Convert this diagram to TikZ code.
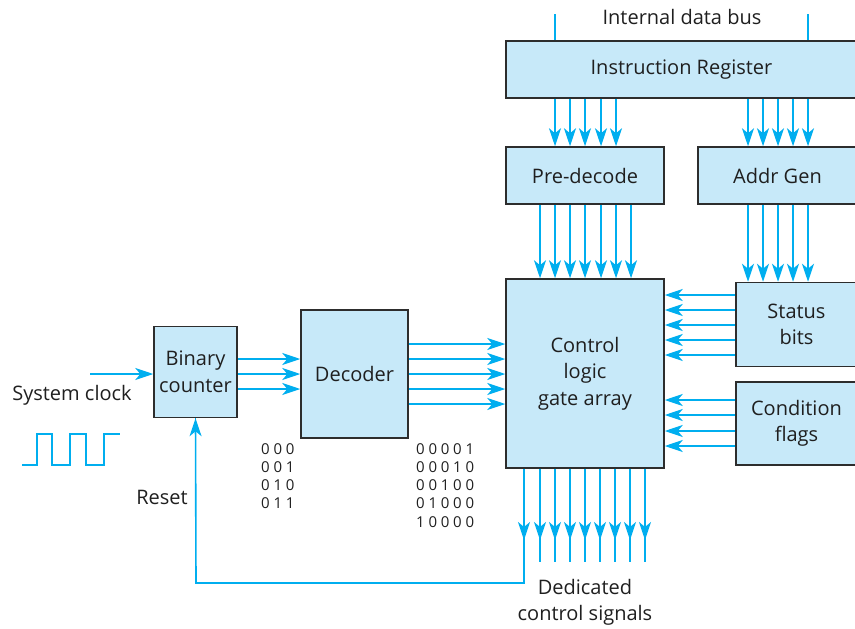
\documentclass[tikz,border=0pt]{standalone}
\usepackage{fontspec}
\setmainfont{Open Sans}
\usetikzlibrary{arrows.meta,positioning}
\definecolor{busblue}{RGB}{0,174,239}
\definecolor{blkfill}{RGB}{199,233,249}
\definecolor{blkline}{RGB}{45,45,45}
\tikzset{
  blk/.style={draw=blkline, fill=blkfill, line width=1.5pt, align=center, inner sep=2pt, text=black!88, font=\fontsize{20}{26.5}\selectfont},
  bus/.style={draw=busblue, line width=1.6pt},
  arr/.style={bus, -{Stealth[length=18pt, width=12pt, inset=5pt]}},
  lbl/.style={align=center, text=black!88, font=\fontsize{20}{26}\selectfont},
  bits/.style={align=left, text=black!88, inner sep=0pt, font=\fontsize{15}{18.3}\selectfont\addfontfeature{LetterSpace=25}},
}
\begin{document}
\begin{tikzpicture}[x=1pt, y=-1pt]
\useasboundingbox (0,0) rectangle (855,629);
% blocks
\node[blk, minimum width=351, minimum height=57] (ir) at (681.5,69.5) {Instruction Register};
\node[blk, minimum width=158, minimum height=57] (pre) at (585,175.5) {Pre-decode};
\node[blk, minimum width=159, minimum height=57] (addr) at (777.5,175.5) {Addr Gen};
\node[blk, minimum width=158, minimum height=189] (ctl) at (585,373.5) {Control\\logic\\gate array};
\node[blk, minimum width=121, minimum height=84] (stat) at (796.5,324.5) {Status\\bits};
\node[blk, minimum width=121, minimum height=83] (cond) at (796.5,423.5) {Condition\\flags};
\node[blk, minimum width=107, minimum height=128] (dec) at (354.5,374) {Decoder};
\node[blk, minimum width=83, minimum height=91] (cnt) at (195.5,372) {Binary\\counter};
% labels
\node[lbl] (bus) at (682,17) {Internal data bus};
\node[lbl] (sysclk) at (72,395) {System clock};
\node[lbl] (rst) at (162,497) {Reset};
\node[lbl] (sig) at (585,602) {Dedicated\\control signals};
\node[bits, anchor=north west] (cntbits) at (261,443) {000\\001\\010\\011};
\node[bits, anchor=north west] (decbits) at (416,443) {00001\\00010\\00100\\01000\\10000};
% data bus into IR
\coordinate (busL) at (555,14);
\coordinate (busR) at (808,14);
\draw[bus] (busL) -- (ir.north -| busL);
\draw[bus] (busR) -- (ir.north -| busR);
% buses
\foreach \x in {555,570,585,601,616}
  \draw[arr] (ir.south -| \x,0) -- (pre.north -| \x,0);
\foreach \x in {748,763,778,793,808}
  \draw[arr] (ir.south -| \x,0) -- (addr.north -| \x,0);
\foreach \x in {540,555,570,585,601,616,631}
  \draw[arr] (pre.south -| \x,0) -- (ctl.north -| \x,0);
\foreach \x in {748,763,778,793,808}
  \draw[arr] (addr.south -| \x,0) -- (stat.north -| \x,0);
\foreach \y in {295,310,325,340,355}
  \draw[arr] (stat.west |- 0,\y) -- (ctl.east |- 0,\y);
\foreach \y in {400,415,431,446}
  \draw[arr] (cond.west |- 0,\y) -- (ctl.east |- 0,\y);
\foreach \y in {344,359,374,389,404}
  \draw[arr] (dec.east |- 0,\y) -- (ctl.west |- 0,\y);
\foreach \y in {359,374,389}
  \draw[arr] (cnt.east |- 0,\y) -- (dec.west |- 0,\y);
% control signals out
\foreach \x in {540,555,570,585,600,615,630,645}{
  \draw[bus] (ctl.south -| \x,0) -- (\x,562);
  \draw[arr] (ctl.south -| \x,0) -- (\x,540);
}
% reset feedback
\draw[bus] (ctl.south -| 524,0) -- (524,583) -| (cnt.south);
\draw[arr] (ctl.south -| 524,0) -- (524,540);
\draw[arr] (196,583) -- (cnt.south);
% clock
\coordinate (clk) at (90,374);
\draw[arr] (clk) -- (clk -| cnt.west);
\draw[bus] (22,465) -- (37,465) -- (37,434) -- (52,434) -- (52,465) -- (70,465)
  -- (70,434) -- (86,434) -- (86,465) -- (104,465) -- (104,434) -- (120,434);
\end{tikzpicture}
\end{document}
